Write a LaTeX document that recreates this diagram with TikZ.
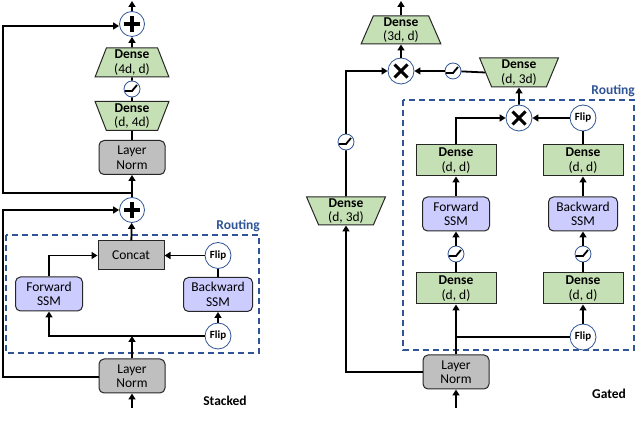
\documentclass[tikz,border=0pt]{standalone}
\usepackage{fontspec}
\setmainfont{Carlito}
\usetikzlibrary{shapes.geometric,arrows.meta}
\definecolor{dgreen}{RGB}{197,224,180}
\definecolor{lav}{RGB}{204,204,255}
\definecolor{lgray}{RGB}{191,191,191}
\definecolor{cblue}{RGB}{47,85,151}
\begin{document}
\begin{tikzpicture}[x=1pt,y=-1pt,font=\fontsize{13.5}{14.5}\selectfont,
  conn/.style={line width=1.8pt,black},
  arr/.style={conn,-{Triangle[length=6pt,width=7pt]}},
  densebox/.style={trapezium,trapezium stretches=true,trapezium left angle=73,trapezium right angle=73,
     draw=black!85,line width=1pt,fill=dgreen,align=center,inner sep=1pt,minimum height=29pt,minimum width=74pt},
  densedown/.style={densebox,shape border rotate=180},
  sqbox/.style={rectangle,draw=black!85,line width=1pt,fill=dgreen,minimum width=80pt,minimum height=31pt,align=center,inner sep=1pt},
  lnbox/.style={rectangle,rounded corners=5pt,draw=black!85,line width=1pt,fill=lgray,minimum width=66pt,minimum height=34pt,align=center,inner sep=1pt},
  ssmbox/.style={rectangle,rounded corners=5pt,draw=black!85,line width=1pt,fill=lav,minimum width=67pt,minimum height=34pt,align=center,inner sep=1pt},
  catbox/.style={rectangle,draw=black!85,line width=1pt,fill=lgray,minimum width=66pt,minimum height=29pt,inner sep=1pt},
  opc/.style={circle,draw=cblue,line width=0.8pt,fill=white,minimum size=25pt,inner sep=0pt},
  plusc/.style={opc,path picture={\draw[line width=3.4pt,black]
      ([xshift=-8pt]path picture bounding box.center) -- ([xshift=8pt]path picture bounding box.center)
      ([yshift=-8pt]path picture bounding box.center) -- ([yshift=8pt]path picture bounding box.center);}},
  timesc/.style={opc,path picture={\draw[line width=3pt,black]
      ([shift={(-6.5pt,-6.5pt)}]path picture bounding box.center) -- ([shift={(6.5pt,6.5pt)}]path picture bounding box.center)
      ([shift={(-6.5pt,6.5pt)}]path picture bounding box.center) -- ([shift={(6.5pt,-6.5pt)}]path picture bounding box.center);}},
  actc/.style={circle,draw=cblue,line width=0.8pt,fill=white,minimum size=16pt,inner sep=0pt,path picture={\draw[line width=1.8pt,black]
      ([shift={(-7pt,-2pt)}]path picture bounding box.center) -- ([shift={(0pt,-2pt)}]path picture bounding box.center)
      -- ([shift={(5pt,4pt)}]path picture bounding box.center);}},
  flipc/.style={opc,minimum size=26pt,font=\fontsize{11}{12}\selectfont\bfseries},
  routing/.style={draw=cblue,line width=1.5pt,dash pattern=on 6pt off 4pt},
  rlabel/.style={text=cblue,font=\fontsize{13.5}{14.5}\selectfont\bfseries,anchor=south east,inner sep=1pt},
  tlabel/.style={font=\fontsize{13.5}{14.5}\selectfont\bfseries}]
\useasboundingbox (0,0) rectangle (640,427);

% ---------------- Stacked ----------------
\draw[routing] (6,235) rectangle (259,353);
\node[rlabel] (rtA) at (261,233) {Routing};
\node[tlabel] (stk) at (225,401) {Stacked};

\coordinate (outA) at (132,1);
\node[plusc] (plusA) at (132,24) {};
\node[densebox] (dA) at (132,62.5) {\textbf{Dense}\\(4d, d)};
\node[actc] (actA) at (132,89) {};
\node[densedown] (dB) at (132,116) {\textbf{Dense}\\(d, 4d)};
\node[lnbox] (lnA) at (132,157.5) {Layer\\Norm};
\coordinate (jA) at (132,193);
\node[plusc] (plusB) at (132,210) {};
\node[catbox] (cat) at (131,255.5) {Concat};
\node[flipc] (flipA1) at (218,255.5) {Flip};
\node[ssmbox] (fwdA) at (49,294) {Forward\\SSM};
\node[ssmbox,minimum width=69pt] (bwdA) at (218,294.5) {Backward\\SSM};
\node[flipc] (flipA2) at (218,336) {Flip};
\coordinate (jB) at (132,336);
\node[lnbox] (lnA2) at (132,376) {Layer\\Norm};
\coordinate (inA) at (132,408);
\coordinate (loopA) at (3,193);
\coordinate (loopB) at (3,377);

\draw[arr] (inA) -- (lnA2);
\draw[arr] (lnA2) -- (jB);
\draw[conn] (jB) -- (flipA2);
\draw[arr] (flipA2.west) -| (fwdA.south);
\draw[arr] (flipA2) -- (bwdA);
\draw[conn] (bwdA) -- (flipA1);
\draw[arr] (flipA1) -- (cat);
\draw[arr] (fwdA.north) |- (cat.west);
\draw[arr] (cat) -- (plusB);
\draw[arr] (plusB) -- (lnA);
\draw[conn] (lnA) -- (dB);
\draw[conn] (dB) -- (actA);
\draw[conn] (actA) -- (dA);
\draw[arr] (dA) -- (plusA);
\draw[arr] (plusA) -- (outA);
\draw[arr] (jA) -- (loopA) |- ([yshift=-2pt]plusA.west);
\draw[arr] ([yshift=-1pt]lnA2.west) -- (loopB) |- (plusB.west);

% ---------------- Gated ----------------
\draw[routing] (403,100) rectangle (634,350);
\node[rlabel] (rtC) at (636,98) {Routing};
\node[tlabel] (gtd) at (609,394) {Gated};

\coordinate (outC) at (401,1);
\node[densebox,minimum width=80pt,minimum height=28pt] (dC) at (401,30) {\textbf{Dense}\\(3d, d)};
\node[timesc,minimum size=26pt] (timesC) at (401,71) {};
\node[actc] (actC2) at (453,71) {};
\node[densedown,minimum width=79pt] (dE) at (519,72.5) {\textbf{Dense}\\(d, 3d)};
\node[timesc,minimum size=26pt] (timesD) at (519,118) {};
\node[flipc] (flipC1) at (583,118) {Flip};
\node[actc] (actC1) at (346,142) {};
\node[sqbox] (dF) at (456,160.5) {\textbf{Dense}\\(d, d)};
\node[sqbox] (dG) at (583,160.5) {\textbf{Dense}\\(d, d)};
\node[densedown,minimum width=79pt,minimum height=28pt] (dD) at (346,211) {\textbf{Dense}\\(d, 3d)};
\node[ssmbox] (fwdC) at (456,214) {Forward\\SSM};
\node[ssmbox,minimum width=69pt] (bwdC) at (583,214) {Backward\\SSM};
\node[actc] (actC3) at (456,254) {};
\node[actc] (actC4) at (583,254) {};
\node[sqbox] (dH) at (456,288.5) {\textbf{Dense}\\(d, d)};
\node[sqbox] (dI) at (583,288.5) {\textbf{Dense}\\(d, d)};
\node[flipc] (flipC2) at (583,337) {Flip};
\coordinate (jC) at (456,337);
\node[lnbox] (lnC) at (456,372) {Layer\\Norm};
\coordinate (inC) at (456,408);

\draw[arr] (inC) -- (lnC);
\draw[arr] (lnC) -- (dH);
\draw[conn] (jC) -- (flipC2);
\draw[arr] (flipC2) -- (dI);
\draw[conn] (dH) -- (actC3);
\draw[arr] (actC3) -- (fwdC);
\draw[conn] (dI) -- (actC4);
\draw[arr] (actC4) -- (bwdC);
\draw[arr] (fwdC) -- (dF);
\draw[arr] (bwdC) -- (dG);
\draw[arr] (dF.north) |- (timesD.west);
\draw[conn] (dG) -- (flipC1);
\draw[arr] (flipC1) -- (timesD);
\draw[arr] (timesD) -- (dE);
\draw[conn] (dE.west) -- (actC2);
\draw[arr] (actC2) -- (timesC);
\draw[arr] (lnC.west) -| (dD.south);
\draw[conn] (dD) -- (actC1);
\draw[arr] (actC1) |- (timesC.west);
\draw[arr] (timesC) -- (dC);
\draw[arr] (dC) -- (outC);
\end{tikzpicture}
\end{document}
